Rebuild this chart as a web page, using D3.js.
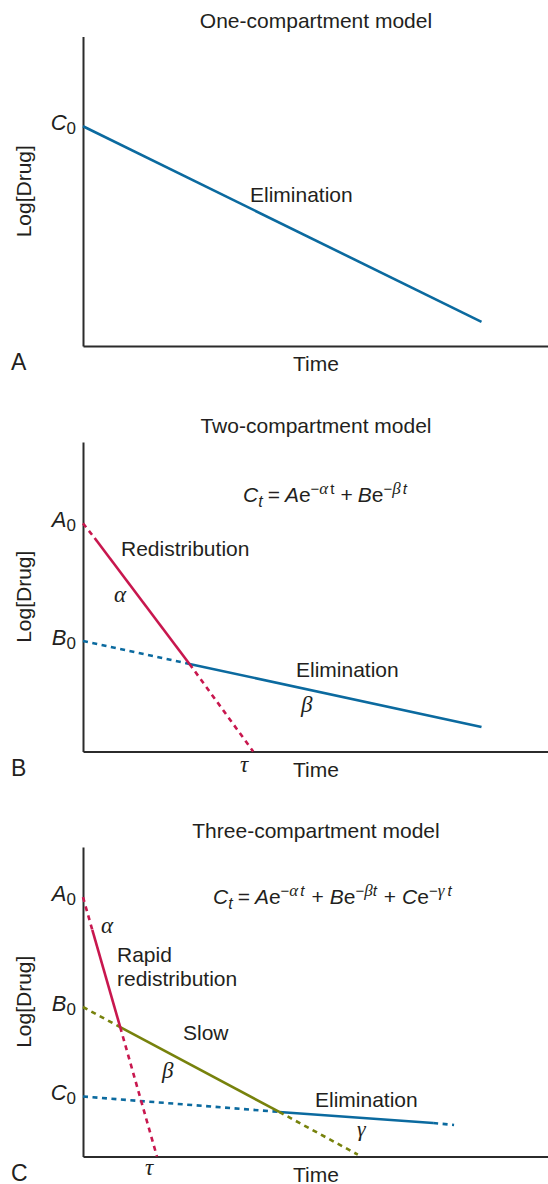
<!DOCTYPE html>
<html>
<head>
<meta charset="utf-8">
<script src="https://cdn.jsdelivr.net/npm/d3@7"></script>
<style>
  body { margin: 0; background: #fff; }
  svg { display: block; }
</style>
</head>
<body>
<div id="chart"></div>
<script>
// ---- data (time and log level in arbitrary units) ----
var panelTitles = ["One-compartment model", "Two-compartment model", "Three-compartment model"];
var panelLetters = ["A", "B", "C"];

// one compartment
var oneElimT = [0, 8.57];
var oneElimC = [7.10, 0.78];
var oneElimStyle = ["solid"];

// two compartment
var twoRedistT = [0, 0.25, 2.29, 3.66];
var twoRedistC = [7.37, 6.90, 2.83, 0];
var twoRedistStyle = ["dash", "solid", "dash"];
var twoElimT = [0, 2.29, 8.57];
var twoElimC = [3.57, 2.83, 0.79];
var twoElimStyle = ["dash", "solid"];

// three compartment
var threeRapidT = [0, 0.20, 0.80, 1.59];
var threeRapidC = [8.38, 7.32, 4.18, 0];
var threeRapidStyle = ["dash", "solid", "dash"];
var threeSlowT = [0, 0.80, 4.22, 5.91];
var threeSlowC = [4.83, 4.18, 1.44, 0.06];
var threeSlowStyle = ["dash", "solid", "dash"];
var threeElimT = [0, 4.22, 7.53, 7.98];
var threeElimC = [1.94, 1.44, 1.08, 1.02];
var threeElimStyle = ["dash", "solid", "dash"];

// ---- layout ----
var width = 548, height = 1184;
var axisLeftX = 83;
var panelBottom = [346, 751.5, 1156.5];
var axisHeight = 309.5;

var blue = "#0b6a9f", red = "#c8174e", olive = "#77820c";
var ink = "#231f20";
var sans = "'Liberation Sans', Arial, Helvetica, sans-serif";
var serif = "'Liberation Serif', 'Times New Roman', serif";

var svg = d3.select("#chart").append("svg")
    .attr("width", width)
    .attr("height", height);

var x = d3.scaleLinear().domain([0, 10]).range([axisLeftX, width]);

function rich(g, px, py, parts, anchor) {
    var grp = g.append("g");
    var cx = 0;
    parts.forEach(function (p) {
        var t = grp.append("text")
            .attr("x", cx)
            .attr("y", p.dy || 0)
            .attr("fill", ink)
            .attr("font-family", p.serif ? serif : sans)
            .attr("font-size", p.size || 21)
            .attr("font-style", p.it ? "italic" : "normal")
            .text(p.s);
        cx += t.node().getComputedTextLength() + (p.gap || 0);
    });
    var off = anchor === "end" ? -cx : anchor === "middle" ? -cx / 2 : 0;
    grp.attr("transform", "translate(" + (px + off) + "," + py + ")");
}

function label(g, px, py, s, opts) {
    opts = opts || {};
    return g.append("text")
        .attr("x", px).attr("y", py)
        .attr("fill", ink)
        .attr("font-family", opts.serif ? serif : sans)
        .attr("font-size", opts.size || 21)
        .attr("font-style", opts.it ? "italic" : "normal")
        .attr("text-anchor", opts.anchor || "start")
        .text(s);
}

function drawSeries(g, y, ts, cs, styles, color) {
    var line = d3.line().x(function (d) { return x(d[0]); }).y(function (d) { return y(d[1]); });
    for (var i = 0; i < styles.length; i++) {
        var seg = [[ts[i], cs[i]], [ts[i + 1], cs[i + 1]]];
        g.append("path")
            .attr("d", line(seg))
            .attr("fill", "none")
            .attr("stroke", color)
            .attr("stroke-width", 2.6)
            .attr("stroke-dasharray", styles[i] === "dash" ? "5,4.5" : null);
    }
}

function intercept(g, y, c, letter) {
    rich(g, 76, y(c) + 4, [
        { s: letter, it: true, size: 22 },
        { s: "0", size: 17, dy: 4 }
    ], "end");
}

var panels = [];
panelBottom.forEach(function (bottom, k) {
    var g = svg.append("g");
    var y = d3.scaleLinear().domain([0, 10]).range([bottom, bottom - axisHeight]);

    // axes
    g.append("g")
        .attr("transform", "translate(" + axisLeftX + ",0)")
        .call(d3.axisLeft(y).tickValues([]).tickSizeOuter(0))
        .call(function (a) { a.select(".domain").attr("stroke", "#2b2b2b").attr("stroke-width", 2); });
    g.append("g")
        .attr("transform", "translate(0," + bottom + ")")
        .call(d3.axisBottom(x).tickValues([]).tickSizeOuter(0))
        .call(function (a) { a.select(".domain").attr("stroke", "#2b2b2b").attr("stroke-width", 2); });

    label(g, 316, bottom - axisHeight - 9, panelTitles[k], { anchor: "middle", size: 21 });
    label(g, 316, bottom + 25, "Time", { anchor: "middle" });
    label(g, 11, bottom + 24, panelLetters[k], { size: 23 });
    g.append("text")
        .attr("transform", "translate(31," + (bottom - axisHeight / 2) + ") rotate(-90)")
        .attr("text-anchor", "middle")
        .attr("fill", ink)
        .attr("font-family", sans)
        .attr("font-size", 21)
        .text("Log[Drug]");
    panels.push({ g: g, y: y, bottom: bottom });
});

// panel A
(function () {
    var p = panels[0];
    drawSeries(p.g, p.y, oneElimT, oneElimC, oneElimStyle, blue);
    intercept(p.g, p.y, oneElimC[0], "C");
    label(p.g, 250, 202, "Elimination");
})();

// panel B
(function () {
    var p = panels[1];
    drawSeries(p.g, p.y, twoElimT, twoElimC, twoElimStyle, blue);
    drawSeries(p.g, p.y, twoRedistT, twoRedistC, twoRedistStyle, red);
    intercept(p.g, p.y, twoRedistC[0], "A");
    intercept(p.g, p.y, twoElimC[0], "B");
    label(p.g, 121, 556, "Redistribution");
    label(p.g, 114, 602, "α", { serif: true, it: true, size: 23 });
    label(p.g, 296, 677, "Elimination");
    label(p.g, 301, 712, "β", { serif: true, it: true, size: 23 });
    label(p.g, 240, 772, "τ", { serif: true, it: true, size: 23 });
    rich(p.g, 243, 502, [
        { s: "C", it: true, size: 21 },
        { s: "t", it: true, size: 16, dy: 5, gap: 5 },
        { s: "=", size: 21, gap: 5 },
        { s: "A", it: true, size: 21 },
        { s: "e", size: 21 },
        { s: "−", size: 15, dy: -8 },
        { s: "α", serif: true, it: true, size: 17, dy: -8, gap: 2 },
        { s: "t", size: 15, dy: -8, gap: 6 },
        { s: "+", size: 21, gap: 5 },
        { s: "B", it: true, size: 21 },
        { s: "e", size: 21 },
        { s: "−", size: 15, dy: -8 },
        { s: "β", serif: true, it: true, size: 17, dy: -8, gap: 2 },
        { s: "t", it: true, size: 15, dy: -8 }
    ]);
})();

// panel C
(function () {
    var p = panels[2];
    drawSeries(p.g, p.y, threeElimT, threeElimC, threeElimStyle, blue);
    drawSeries(p.g, p.y, threeSlowT, threeSlowC, threeSlowStyle, olive);
    drawSeries(p.g, p.y, threeRapidT, threeRapidC, threeRapidStyle, red);
    intercept(p.g, p.y, threeRapidC[0], "A");
    intercept(p.g, p.y, threeSlowC[0], "B");
    intercept(p.g, p.y, threeElimC[0], "C");
    label(p.g, 101, 933, "α", { serif: true, it: true, size: 23 });
    label(p.g, 117, 962, "Rapid");
    label(p.g, 117, 986, "redistribution");
    label(p.g, 183, 1040, "Slow");
    label(p.g, 162, 1078, "β", { serif: true, it: true, size: 23 });
    label(p.g, 315, 1107, "Elimination");
    label(p.g, 357, 1136, "γ", { serif: true, it: true, size: 22 });
    label(p.g, 145, 1175, "τ", { serif: true, it: true, size: 23 });
    rich(p.g, 213, 904, [
        { s: "C", it: true, size: 21 },
        { s: "t", it: true, size: 16, dy: 5, gap: 5 },
        { s: "=", size: 21, gap: 5 },
        { s: "A", it: true, size: 21 },
        { s: "e", size: 21 },
        { s: "−", size: 15, dy: -8 },
        { s: "α", serif: true, it: true, size: 17, dy: -8, gap: 2 },
        { s: "t", it: true, size: 15, dy: -8, gap: 7 },
        { s: "+", size: 21, gap: 6 },
        { s: "B", it: true, size: 21 },
        { s: "e", size: 21 },
        { s: "−", size: 15, dy: -8 },
        { s: "β", serif: true, it: true, size: 17, dy: -8 },
        { s: "t", it: true, size: 15, dy: -8, gap: 7 },
        { s: "+", size: 21, gap: 6 },
        { s: "C", it: true, size: 21 },
        { s: "e", size: 21 },
        { s: "−", size: 15, dy: -8 },
        { s: "γ", serif: true, it: true, size: 17, dy: -8, gap: 3 },
        { s: "t", it: true, size: 15, dy: -8 }
    ]);
})();
</script>
</body>
</html>
